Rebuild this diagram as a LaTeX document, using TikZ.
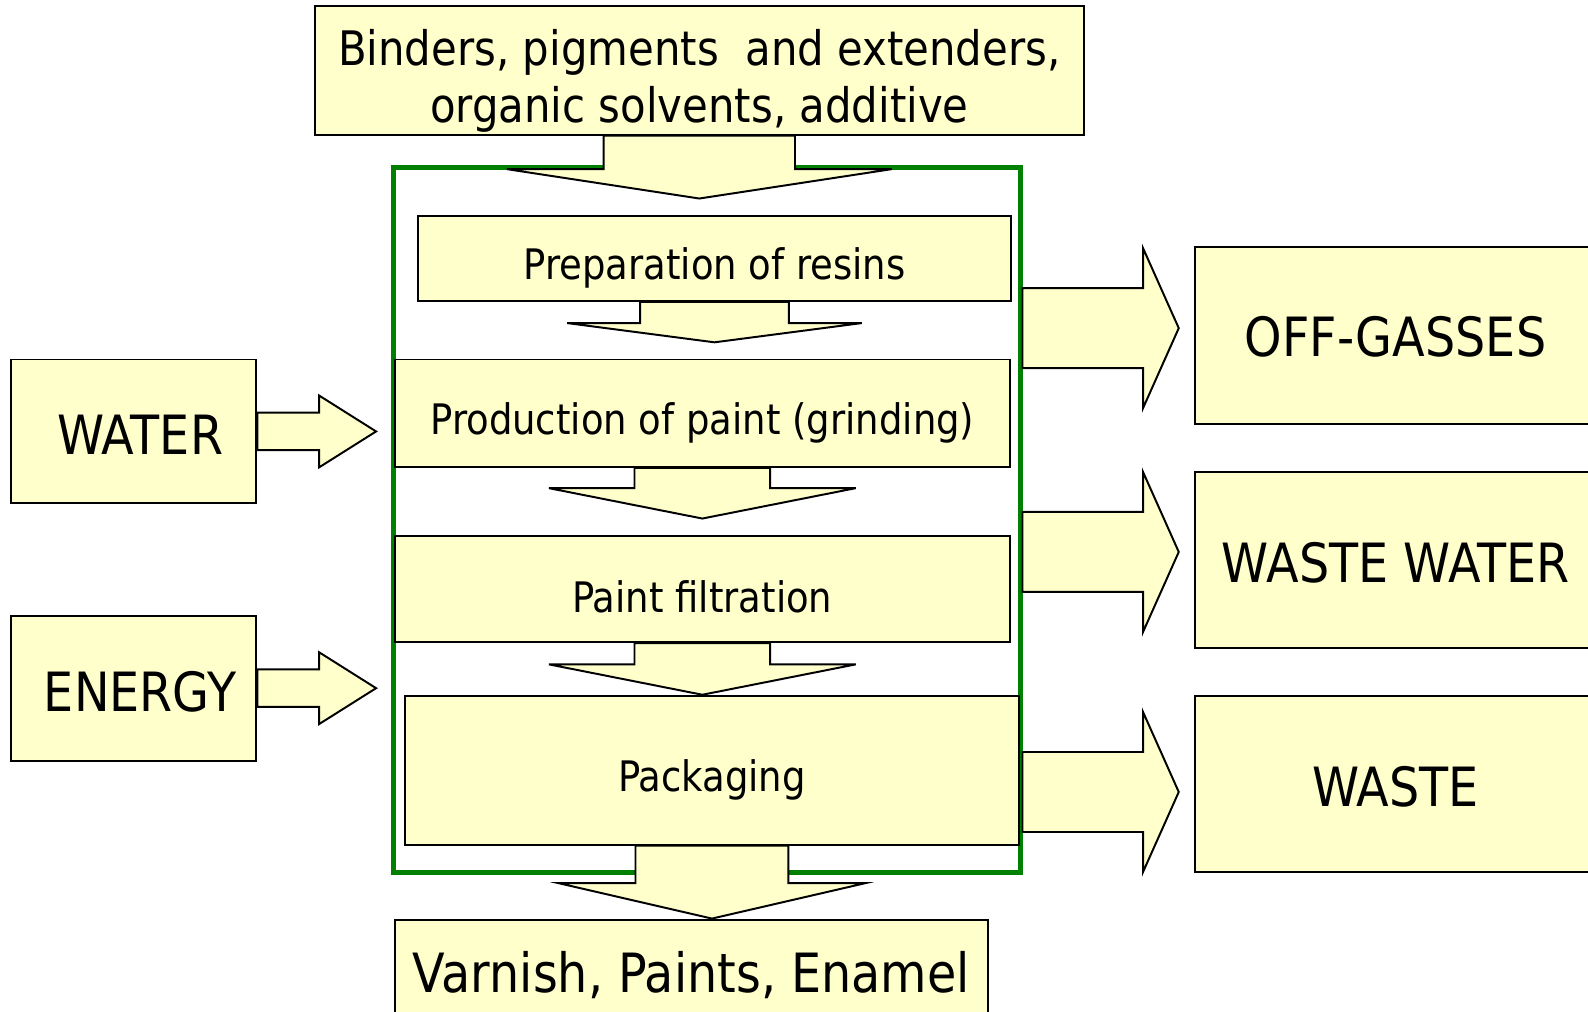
\documentclass[tikz,border=0pt]{standalone}
\usepackage{fontspec}
\setmainfont{DejaVu Sans}[FakeStretch=0.88]
\usetikzlibrary{calc}
\definecolor{slideYellow}{HTML}{FFFFCC}
\definecolor{slideGreen}{HTML}{008000}
\newcommand{\lowertext}[2]{\raisebox{-#1}[\height][\depth]{#2}}
\newcommand{\fatdown}[6]{%
  \draw[flow] ($(#1.south)+(-#3,0)$) -- ++(0,#5) -- ++({#3-#4},0)
    -- ($(#1.south |- #2.north)+(0,-#6)$) -- ($(#1.south)+(#4,#5)$)
    -- ++({#3-#4},0) -- ++(0,-#5) -- cycle;}
\newcommand{\fatright}[6]{%
  \draw[flow] ($(#1)+(0,-#3)$) -- ++(#5,0) -- ++(0,{#3-#4})
    -- ($(#1 -| #2.west)+(-#6,0)$) -- ($(#1)+(#5,#4)$)
    -- ++(0,{#3-#4}) -- ++(-#5,0) -- cycle;}

\begin{document}
\begin{tikzpicture}[x=0.01cm,y=-0.01cm,
  box/.style={draw,fill=slideYellow,line width=0.55pt,inner sep=0pt},
  stepbox/.style={box,font=\fontsize{11.8}{14}\selectfont},
  sidebox/.style={box,font=\fontsize{15.2}{18}\selectfont},
  flow/.style={draw,fill=slideYellow,line width=0.55pt,line join=miter}]
\useasboundingbox (0,0) rectangle (1568,999);
\node[draw=slideGreen,line width=1.4pt,minimum width=6.18cm,minimum height=6.95cm] (plant) at (698,513.5) {};
\node[box,font=\fontsize{13.35}{15.9}\selectfont,minimum width=7.59cm,minimum height=1.27cm] (inputs) at (690.5,69.5)
  {\lowertext{3.4pt}{\begin{tabular}{@{}c@{}}Binders, pigments~ and extenders,\\organic solvents, additive\end{tabular}}};
\node[stepbox,minimum width=5.85cm,minimum height=0.84cm] (resins) at (705.5,255) {\lowertext{2.7pt}{Preparation of resins}};
\node[stepbox,minimum width=6.07cm,minimum height=1.06cm] (grinding) at (693.5,408) {\lowertext{2.6pt}{Production of paint (grinding)}};
\node[stepbox,minimum width=6.07cm,minimum height=1.05cm] (filtration) at (693.5,581.5) {\lowertext{2.2pt}{Paint filtration}};
\node[stepbox,minimum width=6.06cm,minimum height=1.47cm] (packaging) at (703,760.5) {\lowertext{2.8pt}{Packaging}};
\node[sidebox,minimum width=5.85cm,minimum height=1.10cm] (product) at (682.5,963) {Varnish, Paints, Enamel};
\node[sidebox,minimum width=2.42cm,minimum height=1.42cm] (water) at (132,426) {\lowertext{1pt}{\hspace*{3.7pt}WATER}};
\node[sidebox,minimum width=2.42cm,minimum height=1.43cm] (energy) at (132,679.5) {\lowertext{1pt}{\hspace*{3.7pt}ENERGY}};
\node[sidebox,minimum width=3.96cm,minimum height=1.75cm] (gas) at (1378,331.5) {\lowertext{0.4pt}{OFF-GASSES}};
\node[sidebox,minimum width=3.96cm,minimum height=1.74cm] (wastewater) at (1378,553) {\lowertext{0.9pt}{WASTE WATER}};
\node[sidebox,minimum width=3.96cm,minimum height=1.74cm] (waste) at (1378,774) {\lowertext{0.9pt}{WASTE}};
\coordinate (gasout) at ($(plant.east |- gas.west)+(0,-7.5)$);
\coordinate (wwout) at ($(plant.east |- wastewater.west)+(0,-8)$);
\coordinate (wasteout) at ($(plant.east |- waste.west)+(0,8)$);
\fatdown{inputs}{resins}{94.5}{190}{33}{16}
\fatdown{resins}{grinding}{73.5}{145.5}{21}{16}
\fatdown{grinding}{filtration}{67}{151.5}{20}{16}
\fatdown{filtration}{packaging}{67}{151.5}{21}{0}
\fatdown{packaging}{product}{75.5}{151.5}{37}{0}
\fatright{water.east}{plant}{18.5}{35.5}{61}{15}
\fatright{energy.east}{plant}{18.5}{35.5}{61}{15}
\fatright{gasout}{gas}{39.5}{79}{119}{15}
\fatright{wwout}{wastewater}{39.5}{79}{119}{15}
\fatright{wasteout}{waste}{39.5}{79}{119}{15}
\end{tikzpicture}
\end{document}
